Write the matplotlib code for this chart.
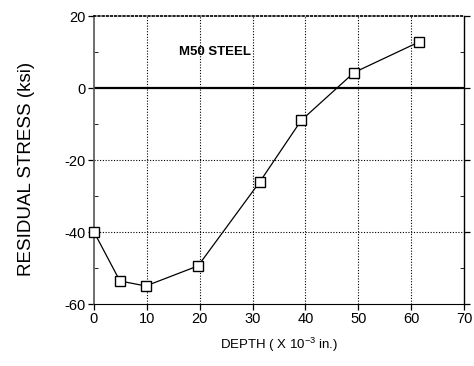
import numpy as np
import matplotlib.pyplot as plt
from matplotlib.ticker import MultipleLocator

plt.rcParams['font.family'] = ['Liberation Sans', 'DejaVu Sans']
plt.rcParams['axes.unicode_minus'] = False
plt.rcParams['mathtext.fontset'] = 'custom'
plt.rcParams['mathtext.rm'] = 'Liberation Sans'

depth = [0, 4.9, 9.8, 19.7, 31.4, 39.2, 49.2, 61.5]
stress = [-40, -53.6, -55.0, -49.4, -26.0, -9.0, 4.3, 12.8]

x_ticks = [0, 10, 20, 30, 40, 50, 60, 70]
y_ticks = [-60, -40, -20, 0, 20]

fig = plt.figure(figsize=(4.74, 3.66), dpi=100)
ax = fig.add_axes([94 / 474, 1 - 304 / 366, 370 / 474, 288 / 366])

ax.set_xlim(0, 70)
ax.set_ylim(-60, 20)
ax.set_xticks(x_ticks)
ax.set_yticks(y_ticks)
ax.yaxis.set_minor_locator(MultipleLocator(10))

for v in x_ticks[1:-1]:
    ax.axvline(v, color='black', linestyle=(0, (1, 1.5)), linewidth=0.8, zorder=1)
for v in [-40, -20]:
    ax.axhline(v, color='black', linestyle=(0, (1, 1.5)), linewidth=0.8, zorder=1)
ax.axhline(0, color='black', linewidth=1.6, zorder=1)

ax.plot(depth, stress, color='black', linewidth=0.9, marker='s', markersize=7.5,
        markerfacecolor='white', markeredgecolor='black', markeredgewidth=1.0,
        zorder=3, clip_on=False)

ax.text(16, 10, 'M50 STEEL', fontsize=9.5, fontweight='bold', va='center')

ax.spines['top'].set_linestyle((0, (1, 1.5)))
ax.spines['top'].set_linewidth(1.2)
ax.spines['left'].set_color('#555555')
ax.spines['left'].set_linewidth(1.2)
ax.spines['right'].set_linewidth(1.0)

ax.tick_params(axis='both', which='major', direction='out', length=4, width=0.9,
               labelsize=10.5, pad=2)
ax.tick_params(axis='y', which='minor', direction='in', length=3, left=True, right=True)
ax.tick_params(axis='y', which='major', right=True)

ax.set_ylabel('RESIDUAL STRESS (ksi)', fontsize=13.5)
ax.yaxis.set_label_coords(-0.16, 0.47)
ax.set_xlabel('DEPTH ( X 10$^{-3}$ in.)', fontsize=9.5, va='center')
ax.xaxis.set_label_coords(0.5, -0.142)

fig.savefig('out.png', dpi=100)
